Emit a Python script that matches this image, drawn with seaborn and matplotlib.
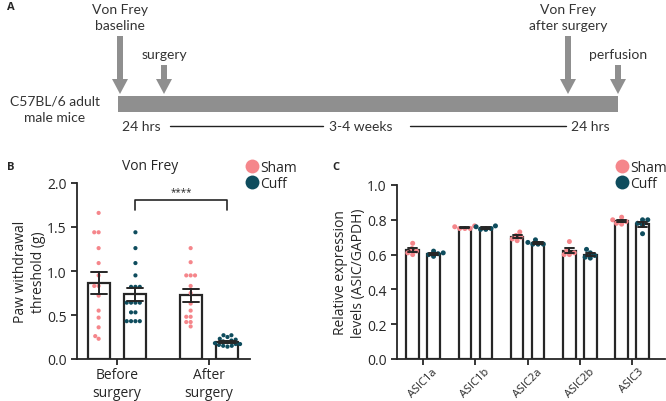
import warnings
import numpy as np
import pandas as pd
import seaborn as sns
import matplotlib.pyplot as plt
from matplotlib.lines import Line2D
from matplotlib.patches import Rectangle, FancyArrow

warnings.filterwarnings("ignore")

groups = ["Sham", "Cuff"]
colors = {"Sham": "#F5868B", "Cuff": "#0E4C5D"}

# Panel B: von Frey paw withdrawal threshold (g)
timepoints = ["Before\nsurgery", "After\nsurgery"]
sham_before = [1.66, 1.44, 1.44, 1.26, 1.09, 0.95, 0.83, 0.83, 0.72, 0.55, 0.47, 0.36, 0.26, 0.23]
cuff_before = [1.44, 1.26, 1.09, 0.95, 0.82, 0.82, 0.82, 0.64, 0.64, 0.64, 0.64, 0.53, 0.53, 0.43, 0.43, 0.43, 0.43]
sham_after = [1.26, 1.10, 0.95, 0.95, 0.95, 0.83, 0.75, 0.63, 0.55, 0.48, 0.48, 0.42, 0.42, 0.37]
cuff_after = [0.27, 0.27, 0.25, 0.23, 0.22, 0.21, 0.20, 0.19, 0.18, 0.17, 0.17, 0.16, 0.15, 0.15, 0.14]

# Panel C: relative expression (ASIC/GAPDH)
genes = ["ASIC1a", "ASIC1b", "ASIC2a", "ASIC2b", "ASIC3"]
asic_sham = [
    [0.665, 0.635, 0.62, 0.61, 0.60],
    [0.765, 0.76, 0.75, 0.75, 0.75],
    [0.73, 0.71, 0.70, 0.69, 0.68],
    [0.675, 0.625, 0.61, 0.60, 0.60],
    [0.815, 0.80, 0.79, 0.78, 0.775],
]
asic_cuff = [
    [0.62, 0.61, 0.605, 0.60, 0.59],
    [0.765, 0.76, 0.75, 0.745, 0.745],
    [0.685, 0.67, 0.66, 0.66, 0.66],
    [0.63, 0.61, 0.595, 0.585, 0.58],
    [0.80, 0.80, 0.78, 0.77, 0.72],
]

# Panel A: timeline labels
timeline_left = "C57BL/6 adult\nmale mice"
timeline_events = ["Von Frey\nbaseline", "surgery", "Von Frey\nafter surgery", "perfusion"]
timeline_spans = ["24 hrs", "3-4 weeks", "24 hrs"]

df_b = pd.DataFrame(
    [(timepoints[0], "Sham", v) for v in sham_before]
    + [(timepoints[0], "Cuff", v) for v in cuff_before]
    + [(timepoints[1], "Sham", v) for v in sham_after]
    + [(timepoints[1], "Cuff", v) for v in cuff_after],
    columns=["time", "group", "value"],
)
rows = []
for g, s, c in zip(genes, asic_sham, asic_cuff):
    rows += [(g, "Sham", v) for v in s] + [(g, "Cuff", v) for v in c]
df_c = pd.DataFrame(rows, columns=["gene", "group", "value"])

sns.set_style("ticks")
plt.rcParams["font.family"] = ["Open Sans", "DejaVu Sans"]
ink = "#262626"

W, H = 666, 402
fig = plt.figure(figsize=(W / 100, H / 100), dpi=100)


def px_axes(left, top, right, bottom):
    return fig.add_axes([left / W, 1 - bottom / H, (right - left) / W, (bottom - top) / H])


# ---- Panel A: timeline diagram
ax0 = px_axes(0, 0, W, 150)
ax0.set_xlim(0, W)
ax0.set_ylim(150, 0)
ax0.axis("off")
grey = "#8f8f8f"
ax0.add_patch(Rectangle((118, 97), 500, 16, color=grey, lw=0))
arrow_x = [120, 164, 568, 618]
arrow_top = [37, 66, 37, 66]
for x, t, lab in zip(arrow_x, arrow_top, timeline_events):
    ax0.add_patch(FancyArrow(x, t, 0, 95 - t, width=6, head_width=16, head_length=15,
                             length_includes_head=True, color=grey, lw=0))
    ax0.text(x, t - 5, lab, ha="center", va="bottom", fontsize=10, family=["Lato", "DejaVu Sans"],
             color="#333333", linespacing=1.35)
ax0.text(55, 110, timeline_left, ha="center", va="center", fontsize=10,
         family=["Lato", "DejaVu Sans"], color="#333333", linespacing=1.4)
for x, lab in zip([141, 361, 590], timeline_spans):
    ax0.text(x, 127, lab, ha="center", va="center", fontsize=10,
             family=["Lato", "DejaVu Sans"], color="#333333")
ax0.plot([170, 323], [127, 127], color="#222222", lw=1)
ax0.plot([410, 566], [127, 127], color="#222222", lw=1)
fig.text(7 / W, 1 - 8 / H, "A", fontsize=8, weight="bold", va="center")


def draw_panel(ax, df, x, order):
    sns.barplot(df, x=x, y="value", hue="group", order=order, hue_order=groups,
                palette={"Sham": "white", "Cuff": "white"}, edgecolor=ink, linewidth=1.6,
                errorbar="se", capsize=0.35, gap=0.4,
                err_kws={"color": ink, "linewidth": 1.4}, legend=False, ax=ax)
    for line in ax.lines:
        line.set_zorder(5)


def style_axes(ax):
    sns.despine(ax=ax)
    for s in ["left", "bottom"]:
        ax.spines[s].set_linewidth(1.3)
        ax.spines[s].set_color(ink)
    ax.tick_params(direction="out", length=4, width=1.3, color=ink, labelsize=10, labelcolor=ink)


def add_legend(ax, x, y):
    handles = [Line2D([], [], marker="o", ls="", markersize=10, markerfacecolor=colors[g],
                      markeredgecolor="none", label=g) for g in groups]
    ax.legend(handles=handles, loc="upper left", bbox_to_anchor=(x / W, 1 - y / H),
              bbox_transform=fig.transFigure, frameon=False, fontsize=10,
              handlelength=0.8, handletextpad=0.25, labelspacing=0.05, borderpad=0)


# ---- Panel B: von Frey
axb = px_axes(77, 184, 250, 360)
draw_panel(axb, df_b, "time", timepoints)
sns.swarmplot(df_b, x="time", y="value", hue="group", order=timepoints, hue_order=groups,
              palette=colors, dodge=True, size=3, legend=False, ax=axb, zorder=3)
axb.set_xlim(-0.435, 1.445)
axb.set_ylim(0, 2.0)
axb.set_yticks([0, 0.5, 1.0, 1.5, 2.0])
axb.set_yticklabels([f"{t:.1f}" for t in [0, 0.5, 1.0, 1.5, 2.0]])
axb.set_xlabel("")
axb.set_ylabel("Paw withdrawal\nthreshold (g)", fontsize=10, color=ink, labelpad=1)
style_axes(axb)
axb.tick_params(axis="x", pad=2)
axb.plot([0.2, 0.2, 1.2, 1.2], [1.69, 1.81, 1.81, 1.69], color=ink, lw=1.2, clip_on=False)
axb.text(0.7, 1.84, "****", ha="center", va="bottom", fontsize=7, color=ink)
fig.text(150 / W, 1 - 167 / H, "Von Frey", ha="center", va="center", fontsize=10, color=ink)
fig.text(7 / W, 1 - 167 / H, "B", fontsize=8, weight="bold", va="center")
add_legend(axb, 239, 154)

# ---- Panel C: ASIC expression
axc = px_axes(397, 186, 665, 360)
draw_panel(axc, df_c, "gene", genes)
sns.swarmplot(df_c, x="gene", y="value", hue="group", order=genes, hue_order=groups,
              palette=colors, dodge=True, size=3.6, legend=False, ax=axc, zorder=3)
axc.set_xlim(-0.5, 4.63)
axc.set_ylim(0, 1.0)
axc.set_yticks(np.arange(0, 1.01, 0.2))
axc.set_yticklabels([f"{t:.1f}" for t in np.arange(0, 1.01, 0.2)])
axc.set_xlabel("")
axc.set_ylabel("Relative expression\nlevels (ASIC/GAPDH)", fontsize=10, color=ink, labelpad=1)
style_axes(axc)
axc.tick_params(axis="x", pad=1)
plt.setp(axc.get_xticklabels(), rotation=45, ha="center", fontsize=8)
fig.text(332 / W, 1 - 167 / H, "C", fontsize=8, weight="bold", va="center")
add_legend(axc, 609, 154)

fig.savefig("out.png", dpi=100)
